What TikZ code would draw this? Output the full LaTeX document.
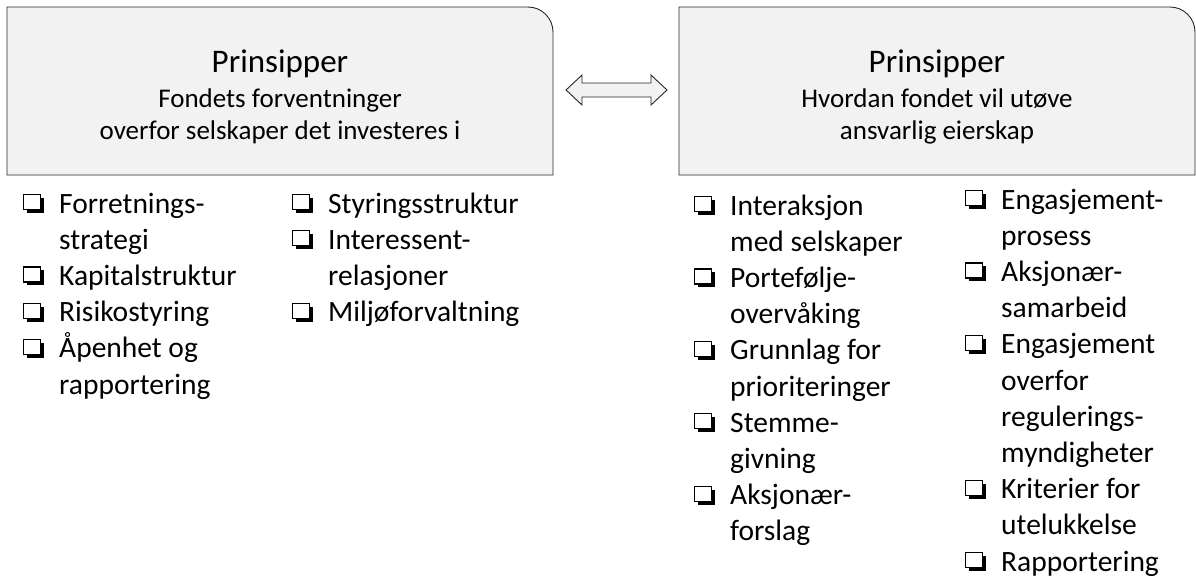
\documentclass[tikz,border=0pt]{standalone}
\usepackage{fontspec}
\setmainfont{Carlito}
\usetikzlibrary{positioning}

% checkbox in front of each list entry
\newcommand\chk{\makebox[36pt][l]{\tikz[baseline=0pt]{
  \fill[black] (3.5pt,0pt) rectangle (21pt,15pt);
  \draw[fill=white, line width=1.2pt] (0.6pt,3.5pt) rectangle (17.6pt,18.5pt);}}}

\tikzset{
  panel/.style={minimum width=#1, minimum height=168pt, inner sep=0pt, outer sep=0pt},
  panelline/.style={draw=black!85, line width=0.9pt, fill=gray!10},
  heading/.style={align=center, inner sep=0pt, font=\fontsize{27}{32}\selectfont},
  checklist/.style={anchor=base west, inner sep=0pt, font=\fontsize{29.5}{36.2}\selectfont},
}

\begin{document}
\begin{tikzpicture}[x=1pt, y=1pt]
  \useasboundingbox (0,0) rectangle (1196,-579);

  % the two panels
  \node[panel=546pt] (lbox) at (280,-91) {};
  \node[panel=516pt, right=126pt of lbox] (rbox) {};
  \draw[panelline] (lbox.south west) |- ([xshift=-25pt]lbox.north east)
    arc[start angle=90, end angle=0, radius=25pt] -- (lbox.south east) -- cycle;
  \draw[panelline] (rbox.south west) |- ([xshift=-25pt]rbox.north east)
    arc[start angle=90, end angle=0, radius=25pt] -- (rbox.south east) -- cycle;

  \node[heading] (lhead) at ([yshift=-6pt]lbox.center)
    {{\fontsize{33}{40}\selectfont Prinsipper}\\[3pt] Fondets forventninger\\ overfor selskaper det investeres i};
  \node[heading] (rhead) at ([yshift=-6pt]rbox.center)
    {{\fontsize{33}{40}\selectfont Prinsipper}\\[3pt] Hvordan fondet vil utøve\\ ansvarlig eierskap};

  % double arrow between the panels
  \coordinate (ltip) at (566,-90);
  \coordinate (rtip) at (667,-90);
  \draw[panelline] (ltip) -- ++(16,15) -- ++(0,-8) -- ([shift={(-16,7)}]rtip)
    -- ++(0,8) -- (rtip) -- ++(-16,-15) -- ++(0,8) -- ([shift={(16,-7)}]ltip)
    -- ++(0,-8) -- cycle;

  % lists under the left panel
  \node[checklist] (lista) at (23,-213) {\begin{tabular}[t]{@{}l@{}l@{}}
    \chk & Forretnings-\\ & strategi\\
    \chk & Kapitalstruktur\\
    \chk & Risikostyring\\
    \chk & Åpenhet og\\ & rapportering
  \end{tabular}};
  \node[checklist] (listb) at (292,-213) {\begin{tabular}[t]{@{}l@{}l@{}}
    \chk & Styringsstruktur\\
    \chk & Interessent-\\ & relasjoner\\
    \chk & Miljøforvaltning
  \end{tabular}};

  % lists under the right panel
  \node[checklist] (listc) at (694,-215) {\begin{tabular}[t]{@{}l@{}l@{}}
    \chk & Interaksjon\\ & med selskaper\\
    \chk & Portefølje-\\ & overvåking\\
    \chk & Grunnlag for\\ & prioriteringer\\
    \chk & Stemme-\\ & givning\\
    \chk & Aksjonær-\\ & forslag
  \end{tabular}};
  \node[checklist] (listd) at (965,-209) {\begin{tabular}[t]{@{}l@{}l@{}}
    \chk & Engasjement-\\ & prosess\\
    \chk & Aksjonær-\\ & samarbeid\\
    \chk & Engasjement\\ & overfor\\ & regulerings-\\ & myndigheter\\
    \chk & Kriterier for\\ & utelukkelse\\
    \chk & Rapportering
  \end{tabular}};
\end{tikzpicture}
\end{document}
